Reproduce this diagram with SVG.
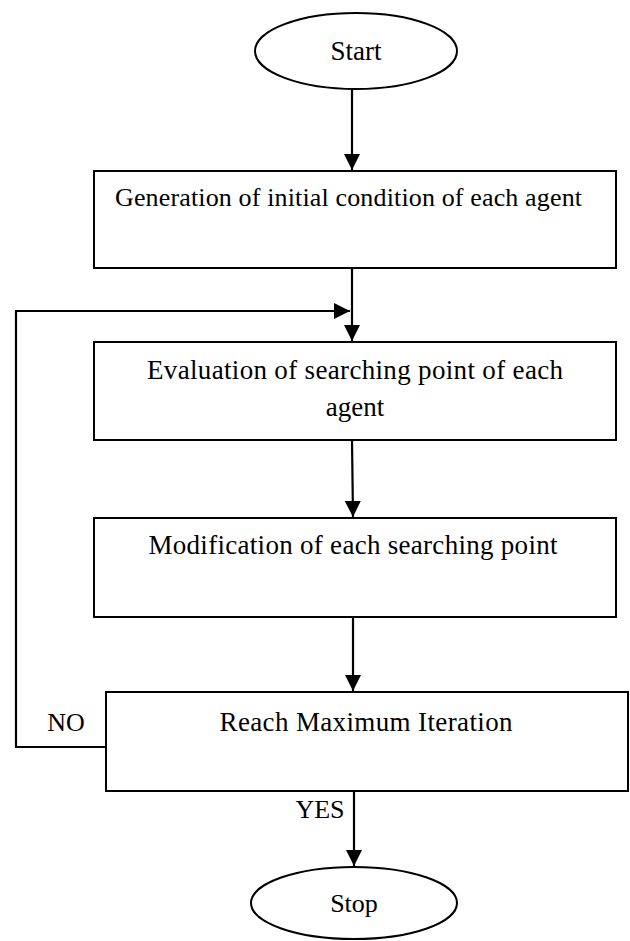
<svg xmlns="http://www.w3.org/2000/svg" width="630" height="941" viewBox="0 0 630 941">
<style>
.shape{fill:#fff;stroke:#000;stroke-width:2}
.conn{fill:none;stroke:#000;stroke-width:2.2}
.t{font-family:"Liberation Serif","DejaVu Serif",serif;font-size:27px;fill:#000;text-anchor:middle}
.s{font-family:"Liberation Serif","DejaVu Serif",serif;font-size:26px;fill:#000;text-anchor:middle}
.g{font-family:"Liberation Serif","DejaVu Serif",serif;font-size:26px;fill:#000}
</style>
<defs>
<marker id="ah" markerUnits="userSpaceOnUse" markerWidth="16" markerHeight="16" viewBox="0 0 16 16" refX="16" refY="8" orient="auto">
<path d="M0,0 L16,8 L0,16 Z" fill="#000"/>
</marker>
</defs>
<g id="connectors">
<line class="conn" x1="352" y1="89" x2="352" y2="170" marker-end="url(#ah)"/>
<line class="conn" x1="352" y1="268" x2="352" y2="341" marker-end="url(#ah)"/>
<polyline class="conn" points="106,747 16,747 16,311 350,311" marker-end="url(#ah)"/>
<line class="conn" x1="352" y1="440" x2="353" y2="517" marker-end="url(#ah)"/>
<line class="conn" x1="353" y1="617" x2="353" y2="691" marker-end="url(#ah)"/>
<line class="conn" x1="354" y1="791" x2="354" y2="866" marker-end="url(#ah)"/>
</g>
<g id="start">
<ellipse class="shape" cx="356" cy="51" rx="101" ry="38"/>
<text class="t" x="356" y="60">Start</text>
</g>
<g id="gen">
<rect class="shape" x="94" y="171" width="522" height="97"/>
<text class="g" x="115" y="206" textLength="467">Generation of initial condition of each agent</text>
</g>
<g id="eval">
<rect class="shape" x="94" y="342" width="522" height="98"/>
<text class="t" x="355" y="379" textLength="416">Evaluation of searching point of each</text>
<text class="t" x="355" y="416">agent</text>
</g>
<g id="mod">
<rect class="shape" x="94" y="518" width="522" height="99"/>
<text class="t" x="353" y="554" textLength="409">Modification of each searching point</text>
</g>
<g id="reach">
<rect class="shape" x="106" y="692" width="522" height="99"/>
<text class="t" x="366" y="731" textLength="293">Reach Maximum Iteration</text>
</g>
<g id="labels">
<text class="s" x="66" y="731">NO</text>
<text class="s" x="320" y="818">YES</text>
</g>
<g id="stop">
<ellipse class="shape" cx="354" cy="903" rx="103" ry="36"/>
<text class="s" x="354" y="912">Stop</text>
</g>
</svg>
